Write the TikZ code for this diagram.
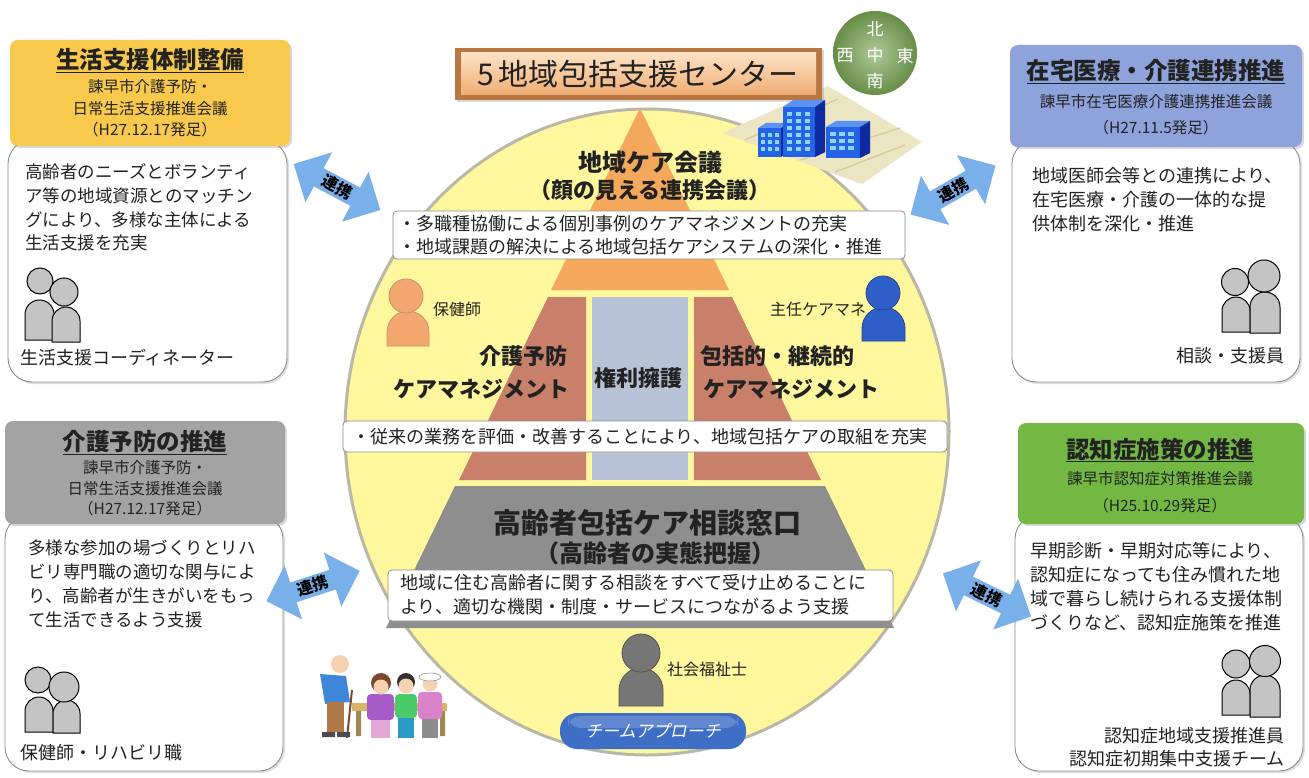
\documentclass[tikz,border=0pt]{standalone}
\usepackage{fontspec}
\setmainfont{Noto Sans CJK JP}
\newfontfamily\slantjp[FakeSlant=0.2]{Noto Sans CJK JP}
\usetikzlibrary{shapes.arrows,shadows}

\definecolor{hdryellow}{HTML}{F8C94C}
\definecolor{hdrblue}{HTML}{8EA2DC}
\definecolor{hdrgray}{HTML}{A3A3A3}
\definecolor{hdrgreen}{HTML}{72B843}
\definecolor{boxline}{HTML}{8C8C8C}
\definecolor{circfill}{HTML}{FFF79E}
\definecolor{circline}{HTML}{B9B8A6}
\definecolor{pyrorange}{HTML}{F4A85C}
\definecolor{pyrbrown}{HTML}{C9806A}
\definecolor{pyrcol}{HTML}{B8C2D6}
\definecolor{pyrgray}{HTML}{8E8E8E}
\definecolor{arrowblue}{HTML}{7AB0EA}
\definecolor{figgray}{HTML}{C4C4C4}
\definecolor{inkdark}{HTML}{222222}
\definecolor{teamblue}{HTML}{3F6EC6}
\definecolor{compassgreen}{HTML}{79A653}
\definecolor{bldblue}{HTML}{2462E6}
\definecolor{bldnavy}{HTML}{0E2A9E}
\definecolor{bldtop}{HTML}{5C92F4}
\definecolor{bldwin}{HTML}{8FD3FF}
\definecolor{groundbeige}{HTML}{ECE5C3}
\definecolor{groundline}{HTML}{D6CC9C}
\definecolor{titleedge}{HTML}{B87740}
\definecolor{titlelight}{HTML}{FCE2C6}
\definecolor{titledark}{HTML}{F0AD72}
\definecolor{hokenorange}{HTML}{F2A86E}
\definecolor{caremblue}{HTML}{2F5FC8}
\definecolor{socialgray}{HTML}{767676}
\definecolor{skin}{HTML}{F5D3B0}
\definecolor{jacketblue}{HTML}{3F86D8}
\definecolor{trouser}{HTML}{B07A48}
\definecolor{benchtan}{HTML}{D9B46A}
\definecolor{purplecoat}{HTML}{A65BC9}
\definecolor{greencoat}{HTML}{4CC968}
\definecolor{pinkcoat}{HTML}{D982C8}
\definecolor{hairbrown}{HTML}{7A4A2A}

\newcommand{\fsz}[2]{\fontsize{#1}{#2}\selectfont}

% person pictogram: head centre (#2,#3), head radius #4,
% body between x=#5 and x=#6, from top #7 down to bottom #8
\newcommand{\persona}[8][]{%
  \pgfmathsetmacro{\bodyr}{(#6-#5)/2}%
  \draw[#1] (#5,#8) -- (#5,{#7+\bodyr}) arc[start angle=180,end angle=0,radius=\bodyr pt] -- (#6,#8) -- cycle;
  \draw[#1] (#2,#3) circle[radius=#4pt];
}

\tikzset{
  wbox/.style={draw=boxline, fill=white, line width=0.9pt, rounded corners=24pt,
    drop shadow={shadow xshift=2pt, shadow yshift=-2pt, opacity=0.25}},
  hbox/.style={rounded corners=8pt,
    drop shadow={shadow xshift=2pt, shadow yshift=-2pt, opacity=0.3}},
  htitle/.style={inner sep=0pt, font=\fsz{23.5}{23.5}\bfseries, text=inkdark},
  hsub/.style={inner sep=0pt, font=\fsz{15.5}{15.5}, text=inkdark},
  bodytxt/.style={inner sep=0pt, anchor=base west, font=\fsz{17.5}{17.5}, text=inkdark},
  role/.style={inner sep=0pt, font=\fsz{18}{18}, text=inkdark},
  fig/.style={draw=black, line width=1pt, fill=figgray},
  note/.style={draw=boxline, fill=white, rounded corners=4pt, line width=0.8pt},
  notetxt/.style={inner sep=0pt, anchor=base west, font=\fsz{18}{18}, text=inkdark},
  bigtxt/.style={inner sep=0pt, font=\fsz{22}{22}\bfseries, text=inkdark},
  smalltxt/.style={inner sep=0pt, font=\fsz{16}{16}, text=inkdark},
  linkarrow/.style={double arrow, fill=arrowblue, draw=none, minimum height=98pt,
    inner sep=2.5pt, double arrow head extend=18pt, double arrow head indent=0pt,
    font=\fsz{16}{16}\bfseries, text=black},
}

\begin{document}
\begin{tikzpicture}[x=1pt,y=-1pt]
\useasboundingbox (0,0) rectangle (1309,778);
\fill[white] (0,0) rectangle (1309,778);

%% ---------- central circle and pyramid ----------
\draw[fill=circfill, draw=circline, line width=3pt] (647,432) ellipse [x radius=302, y radius=323];

\fill[pyrorange] (640,108) -- (729,290) -- (551,290) -- cycle;
\fill[pyrbrown] (548,297) -- (586,297) -- (586,480) -- (459,480) -- cycle;
\fill[pyrcol] (592,297) rectangle (688,480);
\fill[pyrbrown] (694,297) -- (732,297) -- (821,480) -- (694,480) -- cycle;
\fill[pyrgray] (455,486) -- (825,486) -- (894,628) -- (386,628) -- cycle;

% community care meeting
\node[inner sep=0pt, font=\fsz{24}{24}\bfseries, text=inkdark] (kaigi) at (650,162) {地域ケア会議};
\node[inner sep=0pt, font=\fsz{22}{22}\bfseries, text=inkdark] (kaigisub) at (650,190) {（顔の見える連携会議）};
\path[note] (393,211) rectangle (905,259);
\node[notetxt] (kaigi-l1) at (398,230) {・多職種協働による個別事例のケアマネジメントの充実};
\node[notetxt] (kaigi-l2) at (398,253) {・地域課題の解決による地域包括ケアシステムの深化・推進};

% staff pictograms
\node[smalltxt] (hokenshi) at (457,309) {保健師};
\persona[draw=titleedge!80, line width=0.8pt, fill=hokenorange]{406}{296}{17}{387}{429}{311}{346}
\node[smalltxt] (caremgr) at (818,309) {主任ケアマネ};
\persona[draw=caremblue!70!black, line width=0.8pt, fill=caremblue]{883}{293}{17}{862}{905}{307}{341}

% middle tier
\node[bigtxt, anchor=east] (yobo1) at (568,356) {介護予防};
\node[bigtxt, anchor=east] (yobo2) at (570,389) {ケアマネジメント};
\node[bigtxt] (kenri) at (638,378) {権利擁護};
\node[bigtxt, anchor=west] (hokatsu1) at (700,356) {包括的・継続的};
\node[bigtxt, anchor=west] (hokatsu2) at (703,389) {ケアマネジメント};
\path[note] (343,421) rectangle (947,452);
\node[notetxt] (jugyo) at (352,443) {・従来の業務を評価・改善することにより、地域包括ケアの取組を充実};

% bottom tier
\node[inner sep=0pt, font=\fsz{28}{28}\bfseries, text=inkdark] (madoguchi) at (647,523) {高齢者包括ケア相談窓口};
\node[inner sep=0pt, font=\fsz{24}{24}\bfseries, text=inkdark] (madosub) at (655,553) {（高齢者の実態把握）};
\path[note] (388,570) rectangle (893,621);
\node[notetxt] (mado-l1) at (400,589.5) {地域に住む高齢者に関する相談をすべて受け止めることに};
\node[notetxt] (mado-l2) at (400,613.5) {より、適切な機関・制度・サービスにつながるよう支援};

\persona[draw=socialgray!70!black, line width=0.8pt, fill=socialgray]{641}{653}{19}{619}{663}{668}{706}
\node[smalltxt] (fukushi) at (707,669) {社会福祉士};

% team approach label
\path[fill=teamblue, rounded corners=17pt] (560,713) rectangle (746,749);
\fill[white, opacity=0.18, rounded corners=12pt] (568,716) rectangle (738,728);
\node[inner sep=0pt, font=\slantjp\fsz{17}{17}, text=white] (team) at (653,731) {チームアプローチ};

%% ---------- centre heading, buildings, districts ----------
\fill[groundbeige] (722,133) -- (828,86) -- (922,142) -- (862,184) -- cycle;
\draw[groundline, line width=1.5pt] (745,140) -- (838,99) (800,160) -- (900,128) (835,172) -- (905,145);

\path[drop shadow={shadow xshift=2pt, shadow yshift=-2pt, opacity=0.3}] (455,48) rectangle (822,100);
\fill[titleedge] (455,48) rectangle (822,100);
\shade[top color=titlelight, bottom color=titledark] (461,53) rectangle (816,95);
\node[inner sep=0pt, font=\fsz{30}{30}, text=inkdark] (center) at (638,74) {5\,地域包括支援センター};

% buildings
\fill[bldtop] (758,128) -- (766,123) -- (789,123) -- (781,128) -- cycle;
\fill[bldblue] (758,128) rectangle (781,157);
\fill[bldnavy] (781,128) -- (789,123) -- (789,152) -- (781,157) -- cycle;
\fill[bldtop] (783,107) -- (793,100) -- (825,100) -- (815,107) -- cycle;
\fill[bldblue] (783,107) rectangle (815,157);
\fill[bldnavy] (815,107) -- (825,100) -- (825,152) -- (815,157) -- cycle;
\fill[bldtop] (826,127) -- (836,121) -- (870,121) -- (860,127) -- cycle;
\fill[bldblue] (826,127) rectangle (860,158);
\fill[bldnavy] (860,127) -- (870,121) -- (870,153) -- (860,158) -- cycle;
\foreach \wy in {133,140,147} \foreach \wx in {761,768,775} \fill[bldwin] (\wx,\wy) rectangle ++(4,4);
\foreach \wy in {112,119,126,133,140,147} \foreach \wx in {787,796,805} \fill[bldwin] (\wx,\wy) rectangle ++(5,4);
\foreach \wy in {132,139,146} \foreach \wx in {830,839,848} \fill[bldwin] (\wx,\wy) rectangle ++(6,4);

% district circle
\shade[inner color=compassgreen!60!white, outer color=compassgreen!85!black] (875,53) circle[radius=42pt];
\node[inner sep=0pt, font=\fsz{17}{17}, text=white] (kita) at (875,29) {北};
\node[inner sep=0pt, font=\fsz{17}{17}, text=white] (nishi) at (845,56) {西};
\node[inner sep=0pt, font=\fsz{17}{17}, text=white] (naka) at (875,55) {中};
\node[inner sep=0pt, font=\fsz{17}{17}, text=white] (higashi) at (905,56) {東};
\node[inner sep=0pt, font=\fsz{17}{17}, text=white] (minami) at (875,81) {南};

%% ---------- elderly group ----------
\fill[benchtan] (352,703) rectangle (447,711);
\fill[benchtan!75!black] (356,711) rectangle (361,736) (440,711) rectangle (445,736);
\draw[hairbrown, line width=2pt] (352,690) -- (347,738);
\fill[jacketblue] (320,674) -- (346,676) -- (350,702) -- (325,704) -- cycle;
\fill[trouser] (327,702) rectangle (344,732);
\fill[skin] (340,664) circle[radius=9pt];
\fill[black!70] (322,732) rectangle (335,737) (337,732) rectangle (350,737);
\fill[purplecoat, rounded corners=4pt] (367,694) rectangle (394,720);
\fill[pinkcoat!70] (371,720) rectangle (390,738);
\fill[hairbrown] (381,683) circle[radius=10pt];
\fill[skin] (381,687) circle[radius=7.5pt];
\fill[greencoat, rounded corners=4pt] (395,694) rectangle (417,718);
\fill[cyan!60!teal] (398,718) rectangle (414,738);
\fill[black!80] (406,682) circle[radius=9pt];
\fill[skin] (406,686) circle[radius=7.5pt];
\fill[pinkcoat, rounded corners=4pt] (418,692) rectangle (442,719);
\fill[black!45] (422,719) rectangle (438,738);
\fill[skin] (430,684) circle[radius=7.5pt];
\fill[white] (430,677) ellipse [x radius=11, y radius=4];
\draw[black!50, line width=0.5pt] (430,677) ellipse [x radius=11, y radius=4];

%% ---------- top-left: living support ----------
\path[wbox] (8,140) rectangle (287,382);
\path[hbox, fill=hdryellow] (10,40) rectangle (290,146);
\node[htitle] (tl-title) at (150,61) {\underline{生活支援体制整備}};
\node[hsub] (tl-sub1) at (150,87) {諫早市介護予防・};
\node[hsub] (tl-sub2) at (150,109) {日常生活支援推進会議};
\node[hsub] (tl-sub3) at (150,130) {（H27.12.17発足）};
\node[bodytxt] (tl-l1) at (25,179) {高齢者のニーズとボランティ};
\node[bodytxt] (tl-l2) at (25,202.5) {ア等の地域資源とのマッチン};
\node[bodytxt] (tl-l3) at (25,226) {グにより、多様な主体による};
\node[bodytxt] (tl-l4) at (25,249.5) {生活支援を充実};
\persona[fig]{40}{281}{13}{25}{54}{300}{340}
\persona[fig]{64}{292}{14}{52}{80}{307}{342}
\node[role, anchor=base west] (tl-role) at (20,364) {生活支援コーディネーター};

%% ---------- top-right: home medical care ----------
\path[wbox] (1012,140) rectangle (1300,382);
\path[hbox, fill=hdrblue] (1010,45) rectangle (1302,147);
\node[htitle] (tr-title) at (1156,72) {\underline{在宅医療・介護連携推進}};
\node[hsub] (tr-sub1) at (1156,102) {諫早市在宅医療介護連携推進会議};
\node[hsub] (tr-sub2) at (1156,128) {（H27.11.5発足）};
\node[bodytxt, font=\fsz{18}{18}] (tr-l1) at (1032,183) {地域医師会等との連携により、};
\node[bodytxt, font=\fsz{18}{18}] (tr-l2) at (1032,207) {在宅医療・介護の一体的な提};
\node[bodytxt, font=\fsz{18}{18}] (tr-l3) at (1032,231) {供体制を深化・推進};
\persona[fig]{1235}{282}{13.5}{1222}{1250}{297}{332}
\persona[fig]{1264}{276}{16}{1250}{1280}{292}{333}
\node[role, anchor=base east] (tr-role) at (1285,362) {相談・支援員};

%% ---------- bottom-left: prevention ----------
\path[wbox] (5,515) rectangle (283,771);
\path[hbox, fill=hdrgray] (5,421) rectangle (285,524);
\node[htitle] (bl-title) at (145,443) {\underline{介護予防の推進}};
\node[hsub] (bl-sub1) at (145,468) {諫早市介護予防・};
\node[hsub] (bl-sub2) at (145,489) {日常生活支援推進会議};
\node[hsub] (bl-sub3) at (145,509) {（H27.12.17発足）};
\node[bodytxt] (bl-l1) at (28,554) {多様な参加の場づくりとリハ};
\node[bodytxt] (bl-l2) at (28,578) {ビリ専門職の適切な関与によ};
\node[bodytxt] (bl-l3) at (28,602) {り、高齢者が生きがいをもっ};
\node[bodytxt] (bl-l4) at (28,626) {て生活できるよう支援};
\persona[fig]{38}{680}{13}{25}{53}{697}{732}
\persona[fig]{64}{687}{15}{53}{80}{700}{733}
\node[role, anchor=base west] (bl-role) at (20,759) {保健師・リハビリ職};

%% ---------- bottom-right: dementia ----------
\path[wbox] (1015,515) rectangle (1303,771);
\path[hbox, fill=hdrgreen] (1018,423) rectangle (1304,524);
\node[htitle] (br-title) at (1160,450) {\underline{認知症施策の推進}};
\node[hsub] (br-sub1) at (1160,479) {諫早市認知症対策推進会議};
\node[hsub] (br-sub2) at (1160,506) {（H25.10.29発足）};
\node[bodytxt, font=\fsz{18}{18}] (br-l1) at (1030,557) {早期診断・早期対応等により、};
\node[bodytxt, font=\fsz{18}{18}] (br-l2) at (1030,581) {認知症になっても住み慣れた地};
\node[bodytxt, font=\fsz{18}{18}] (br-l3) at (1030,605) {域で暮らし続けられる支援体制};
\node[bodytxt, font=\fsz{18}{18}] (br-l4) at (1030,629) {づくりなど、認知症施策を推進};
\persona[fig]{1236}{664}{14}{1222}{1250}{680}{715}
\persona[fig]{1265}{661}{15.5}{1250}{1280}{675}{717}
\node[role, anchor=base east] (br-role1) at (1285,742) {認知症地域支援推進員};
\node[role, anchor=base east] (br-role2) at (1285,765) {認知症初期集中支援チーム};

%% ---------- linkage arrows ----------
\node[linkarrow, rotate=-28] (link-tl) at (337,187) {連携};
\node[linkarrow, rotate=30] (link-tr) at (953,190) {連携};
\node[linkarrow, rotate=18] (link-bl) at (313,586) {連携};
\node[linkarrow, rotate=-26] (link-br) at (987,595) {連携};
\end{tikzpicture}
\end{document}
